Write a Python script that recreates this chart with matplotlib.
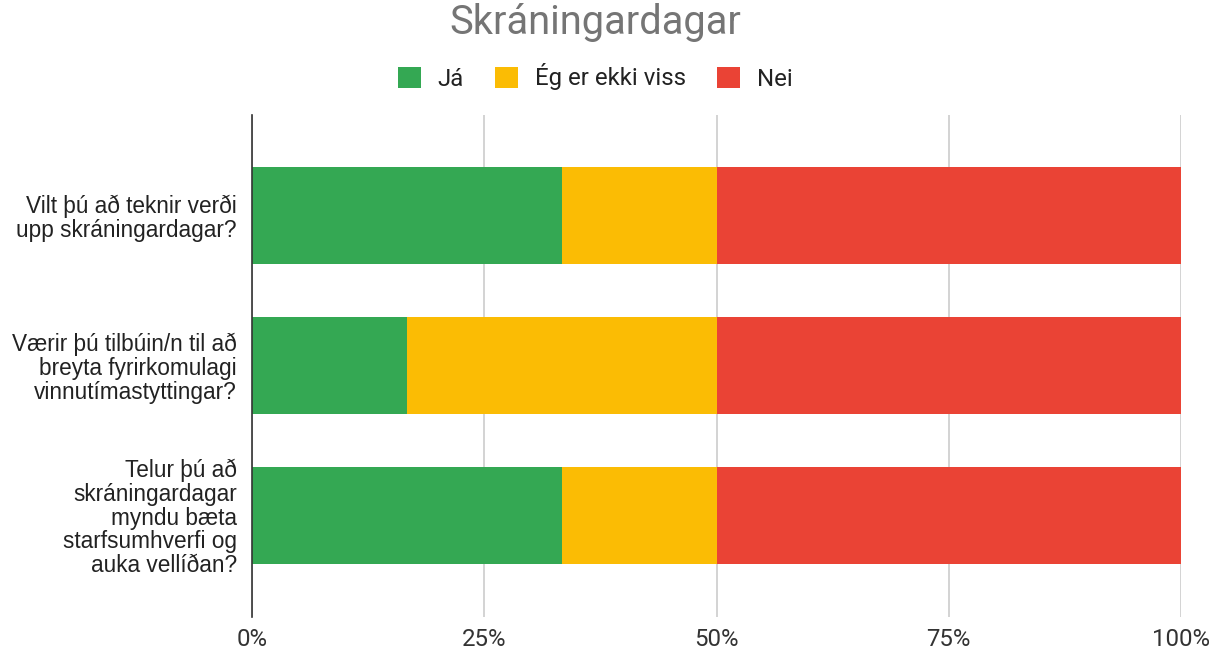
import matplotlib
matplotlib.use("Agg")
import matplotlib.pyplot as plt
import numpy as np

categories = [
    "Vilt þú að teknir verði\nupp skráningardagar?",
    "Værir þú tilbúin/n til að\nbreyta fyrirkomulagi\nvinnutímastyttingar?",
    "Telur þú að\nskráningardagar\nmyndu bæta\nstarfsumhverfi og\nauka vellíðan?",
]
series_names = ["Já", "Ég er ekki viss", "Nei"]
ja = [33.33, 16.67, 33.33]
ekki_viss = [16.67, 33.33, 16.67]
nei = [50.0, 50.0, 50.0]
colors = ["#34A853", "#FBBC04", "#EA4335"]
xticks = [0, 25, 50, 75, 100]
xticklabels = ["0%", "25%", "50%", "75%", "100%"]

plt.rcParams['font.family'] = ['Liberation Sans', 'DejaVu Sans']

fig = plt.figure(figsize=(12.22, 6.53), dpi=100)
ax = fig.add_axes([252/1222, 1-617/653, (1181-252)/1222, (617-115)/653])

y = np.arange(len(categories))
left = np.zeros(len(categories))
for vals, name, c in zip([ja, ekki_viss, nei], series_names, colors):
    ax.barh(y, vals, left=left, height=0.647, color=c, label=name, zorder=3)
    left = left + np.array(vals)

ax.set_xlim(0, 100)
ax.set_ylim(2.68, -0.673)
ax.set_yticks(y)
ax.set_yticklabels(categories, fontsize=16.3, color="#222222", linespacing=1.04)
ax.set_xticks(xticks)
ax.set_xticklabels(xticklabels, fontsize=17.3, color="#333333", family=['Roboto', 'DejaVu Sans'])
ax.tick_params(axis='both', length=0)
ax.tick_params(axis='x', pad=8)
ax.tick_params(axis='y', pad=11)
ax.grid(axis='x', color="#cccccc", linewidth=1.2, zorder=0)
for s in ["top", "right", "bottom"]:
    ax.spines[s].set_visible(False)
ax.spines["left"].set_color("#333333")
ax.spines["left"].set_linewidth(1.2)
ax.spines["left"].set_zorder(4)

fig.text(0.487, 1-22/653, "Skráningardagar", ha="center", va="center", fontsize=28.7,
         color="#757575", family=['Roboto', 'DejaVu Sans'])
leg = fig.legend(loc="center", bbox_to_anchor=(0.487, 1-77/653), ncol=3, frameon=False,
                 prop={'family': ['Roboto', 'DejaVu Sans'], 'size': 17.3},
                 handlelength=0.95, handleheight=0.95, columnspacing=1.3, handletextpad=0.7)
for t in leg.get_texts():
    t.set_color("#222222")

fig.savefig("out.png", dpi=100)
